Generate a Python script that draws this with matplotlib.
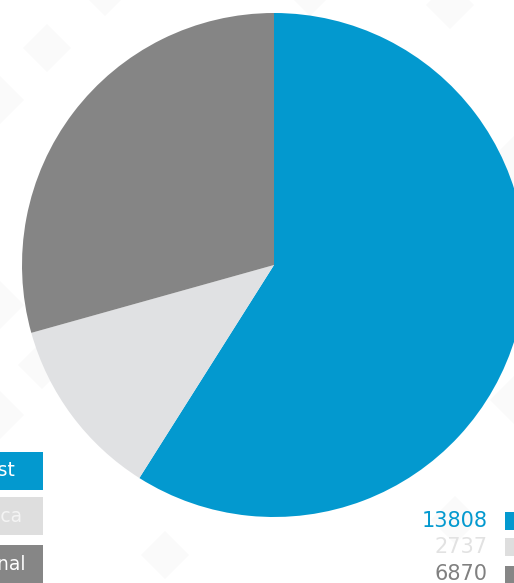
import matplotlib
matplotlib.use("Agg")
import matplotlib.pyplot as plt
from matplotlib.patches import Rectangle, Polygon

categories = ["Northeast", "North America", "International"]
values = [13808, 2737, 6870]
colors = ["#0399CF", "#E0E1E3", "#858585"]
number_colors = ["#0399CF", "#E2E2E2", "#808080"]
box_colors = ["#0399CF", "#DEDEDE", "#868686"]

W, H = 514, 583
fig = plt.figure(figsize=(W / 100, H / 100), dpi=100)
fig.patch.set_facecolor("white")

# faint diamond background pattern
diamond_centers = [(105, -8), (47, 48), (0, 100), (310, -8), (450, 5), (514, 160),
                   (0, 305), (42, 365), (0, 415), (165, 555), (335, 455),
                   (455, 520), (514, 400)]
for (dx, dy) in diamond_centers:
    s = 24
    pts = [((dx - s) / W, (H - dy) / H), (dx / W, (H - dy - s) / H),
           ((dx + s) / W, (H - dy) / H), (dx / W, (H - dy + s) / H)]
    fig.patches.append(Polygon(pts, closed=True, transform=fig.transFigure,
                               facecolor="#FAFAFA", edgecolor="none", zorder=-5))

# pie axes: centre (274,265) px, radius 252 px
cx, cy, r = 274, 265, 252
ax = fig.add_axes([(cx - r) / W, (H - cy - r) / H, 2 * r / W, 2 * r / H])
ax.set_zorder(1)
ax.patch.set_alpha(0)
ax.pie(values, colors=colors, startangle=90, counterclock=False,
       radius=1.0, wedgeprops=dict(linewidth=0))
ax.set_xlim(-1, 1)
ax.set_ylim(-1, 1)
ax.set_aspect("equal")
ax.axis("off")

# left legend boxes (cut off at the left edge, as in the reference)
box_tops = [452, 497, 545]
text_right = [15, 22, 26]
box_h = 38
for i, (lab, bc) in enumerate(zip(categories, box_colors)):
    top = box_tops[i]
    fig.patches.append(Rectangle((-200 / W, (H - top - box_h) / H), 243 / W, box_h / H,
                                 transform=fig.transFigure, facecolor=bc,
                                 edgecolor="none", zorder=2))
    tc = "white" if i != 1 else "#F4F4F4"
    fig.text(text_right[i] / W, (H - top - box_h / 2) / H, lab, ha="right", va="center",
             color=tc, fontsize=13.5, zorder=3)

# right numbers and squares
num_y = [521, 547, 574]
sq_tops = [512, 538, 566]
for i, v in enumerate(values):
    fig.text(488 / W, (H - num_y[i]) / H, str(v), ha="right", va="center",
             color=number_colors[i], fontsize=15, zorder=3)
    fig.patches.append(Rectangle((505 / W, (H - sq_tops[i] - 18) / H), 20 / W, 18 / H,
                                 transform=fig.transFigure, facecolor=box_colors[i],
                                 edgecolor="none", zorder=2))

fig.savefig("out.png", dpi=100, facecolor="white")
